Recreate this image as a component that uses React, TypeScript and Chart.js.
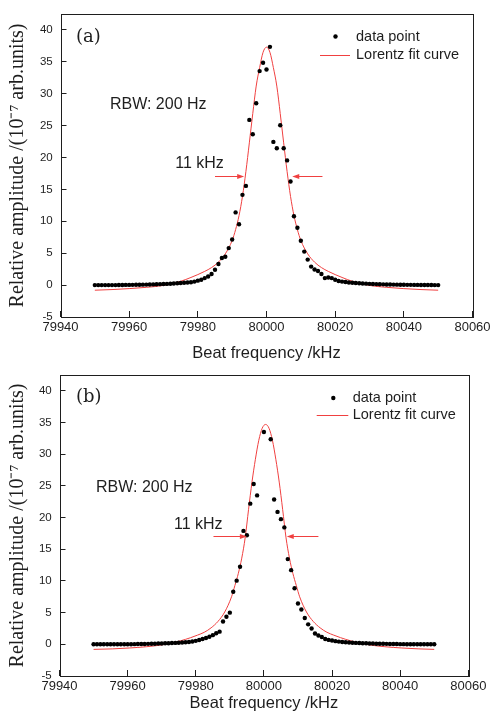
import React, { useEffect, useRef } from "react";
import { Chart, registerables } from "chart.js";

Chart.register(...registerables);

// ---------- data ----------
const frequencyKHz = [
  79950, 79951, 79952, 79953, 79954, 79955, 79956, 79957, 79958, 79959,
  79960, 79961, 79962, 79963, 79964, 79965, 79966, 79967, 79968, 79969,
  79970, 79971, 79972, 79973, 79974, 79975, 79976, 79977, 79978, 79979,
  79980, 79981, 79982, 79983, 79984, 79985, 79986, 79987, 79988, 79989,
  79990, 79991, 79992, 79993, 79994, 79995, 79996, 79997, 79998, 79999,
  80000, 80001, 80002, 80003, 80004, 80005, 80006, 80007, 80008, 80009,
  80010, 80011, 80012, 80013, 80014, 80015, 80016, 80017, 80018, 80019,
  80020, 80021, 80022, 80023, 80024, 80025, 80026, 80027, 80028, 80029,
  80030, 80031, 80032, 80033, 80034, 80035, 80036, 80037, 80038, 80039,
  80040, 80041, 80042, 80043, 80044, 80045, 80046, 80047, 80048, 80049,
  80050,
];

const amplitudeA = [
  0, 0, 0, 0, 0, 0, 0, 0.02, 0.02, 0.03,
  0.03, 0.04, 0.05, 0.06, 0.07, 0.08, 0.1, 0.11, 0.13, 0.15,
  0.17, 0.19, 0.22, 0.25, 0.28, 0.32, 0.36, 0.4, 0.45, 0.55,
  0.7, 0.85, 1.1, 1.35, 1.75, 2.4, 3.3, 4.25, 4.45, 5.8,
  7.15, 11.4, 9.55, 14.15, 15.55, 25.9, 23.65, 28.5, 33.55, 34.85,
  33.8, 37.35, 22.45, 21.45, 25.05, 21.45, 19.55, 16.25, 10.8, 9.0,
  6.95, 5.25, 4.0, 2.9, 2.45, 2.2, 1.75, 1.1, 1.2, 1.1,
  0.85, 0.65, 0.55, 0.48, 0.42, 0.37, 0.33, 0.29, 0.26, 0.23,
  0.2, 0.18, 0.16, 0.14, 0.12, 0.1, 0.09, 0.08, 0.07, 0.06,
  0.05, 0.04, 0.04, 0.03, 0.03, 0.02, 0.02, 0.01, 0.01, 0,
  0,
];

const amplitudeB: (number | null)[] = [
  0, 0, 0, 0, 0, 0, 0, 0, 0, 0,
  0, 0.02, 0.03, 0.04, 0.05, 0.06, 0.07, 0.08, 0.1, 0.12,
  0.14, 0.16, 0.18, 0.2, 0.22, 0.25, 0.28, 0.32, 0.37, 0.45,
  0.55, 0.68, 0.83, 1.0, 1.2, 1.45, 1.75, 2.0, 3.6, 4.35,
  5.0, 8.3, 10.05, 12.25, 17.9, 17.2, 22.2, 25.3, 23.5, null,
  33.5, null, 32.35, 22.85, 20.9, 19.75, 18.45, 13.45, 11.7, 8.85,
  6.45, 5.5, 4.15, 3.15, 2.5, 1.7, 1.4, 1.15, 0.85, 0.7,
  0.6, 0.5, 0.43, 0.37, 0.32, 0.28, 0.25, 0.22, 0.2, 0.18,
  0.16, 0.14, 0.12, 0.1, 0.09, 0.08, 0.07, 0.06, 0.05, 0.04,
  0.03, 0.03, 0.02, 0.02, 0.01, 0.01, 0, 0, 0, 0,
  0,
];

const fitFreqA = [
  79950, 79955, 79960, 79965, 79970, 79975, 79978, 79980, 79982, 79984,
  79986, 79988, 79990, 79991, 79992, 79993, 79994, 79995, 79996, 79997,
  79998, 79999, 80000, 80001, 80002, 80003, 80004, 80005, 80006, 80007,
  80008, 80009, 80010, 80012, 80014, 80016, 80018, 80020, 80022, 80025,
  80030, 80035, 80040, 80045, 80050,
];
const fitAmpA = [
  -0.8, -0.7, -0.55, -0.35, -0.05, 0.6, 1.2, 1.65, 2.15, 2.75,
  3.6, 4.9, 7.0, 8.7, 10.9, 13.9, 17.8, 22.3, 26.9, 31.2,
  34.1, 36.5, 37.3, 36.5, 34.1, 31.2, 26.9, 22.3, 17.8, 13.9,
  10.9, 8.7, 7.0, 4.9, 3.6, 2.75, 2.15, 1.65, 1.2, 0.6,
  -0.05, -0.35, -0.55, -0.7, -0.8,
];

const fitFreqB = [
  79950, 79955.5, 79960.5, 79965.5, 79970.5, 79975.5, 79978.5, 79980.5, 79982.5, 79984.5,
  79986.5, 79988.5, 79990.5, 79991.5, 79992.5, 79993.5, 79994.5, 79995.5, 79996.5, 79997.5,
  79998.5, 79999.5, 80000.5, 80001.5, 80002.5, 80003.5, 80004.5, 80005.5, 80006.5, 80007.5,
  80008.5, 80009.5, 80010.5, 80012.5, 80014.5, 80016.5, 80018.5, 80020.5, 80022.5, 80025.5,
  80030.5, 80035.5, 80040.5, 80045.5, 80050,
];
const fitAmpB = [
  -0.8, -0.72, -0.58, -0.38, -0.05, 0.55, 1.05, 1.45, 1.9, 2.6,
  3.6, 5.1, 7.5, 9.3, 11.2, 13.6, 16.8, 21.3, 25.6, 29.2,
  32.2, 34.1, 34.7, 34.1, 32.2, 29.2, 25.6, 21.3, 16.8, 13.6,
  11.2, 9.3, 7.5, 5.1, 3.6, 2.6, 1.9, 1.45, 1.05, 0.55,
  -0.05, -0.38, -0.58, -0.72, -0.8,
];

const xTickValues = [79940, 79960, 79980, 80000, 80020, 80040, 80060];
const yTickValues = [-5, 0, 5, 10, 15, 20, 25, 30, 35, 40];
const seriesLabels = ["data point", "Lorentz fit curve"];
const xTitle = "Beat frequency /kHz";
const yTitle = "Relative amplitude /(10\u207B\u2077 arb.units)";
const rbwText = "RBW: 200 Hz";
const fwhmText = "11 kHz";

// annotation anchors in data units
const rbwPosA = [79954.4, 28.3];
const fwhmPosA = [79973.4, 19.0];
const arrowsA = { level: 17.05, leftFrom: 79985.0, leftTo: 79993.5, rightFrom: 80016.3, rightTo: 80007.5 };
const rbwPosB = [79950.7, 24.7];
const fwhmPosB = [79973.6, 18.9];
const arrowsB = { level: 17.08, leftFrom: 79985.2, leftTo: 79995.0, rightFrom: 80016.0, rightTo: 80006.7 };

// ---------- styling ----------
const SANS = "'Liberation Sans', Arial, sans-serif";
const SERIF = "'Liberation Serif', 'Times New Roman', serif";
const PANEL_SERIF = "'DejaVu Serif', serif";
const INK = "#1e1e1e";
const RED = "#f04040";

type Panel = {
  tag: string;
  top: number;
  height: number;
  padTop: number;
  padRight: number;
  yAxisWidth: number;
  xAxisHeight: number;
  xTitlePad: number;
  amp: (number | null)[];
  fitX: number[];
  fitY: number[];
  rbw: number[];
  fwhm: number[];
  arrows: { level: number; leftFrom: number; leftTo: number; rightFrom: number; rightTo: number };
  tagDx: number;
  tagDy: number;
  legDotDx: number;
  legTextDx: number;
  legLineFrom: number;
  legLineTo: number;
  legRow1: number;
  legRow2: number;
};

const panels: Panel[] = [
  {
    tag: "(a)", top: 0, height: 365, padTop: 14, padRight: 18.5, yAxisWidth: 60.5, xAxisHeight: 48, xTitlePad: 1.8,
    amp: amplitudeA, fitX: fitFreqA, fitY: fitAmpA, rbw: rbwPosA, fwhm: fwhmPosA, arrows: arrowsA,
    tagDx: 15.5, tagDy: 23, legDotDx: 137, legTextDx: 116.5, legLineFrom: 152.5, legLineTo: 122.5, legRow1: 22.5, legRow2: 40.5,
  },
  {
    tag: "(b)", top: 361, height: 352, padTop: 14, padRight: 22.7, yAxisWidth: 59.5, xAxisHeight: 37, xTitlePad: 0.1,
    amp: amplitudeB, fitX: fitFreqB, fitY: fitAmpB, rbw: rbwPosB, fwhm: fwhmPosB, arrows: arrowsB,
    tagDx: 16.5, tagDy: 22.3, legDotDx: 135, legTextDx: 115.6, legLineFrom: 151.6, legLineTo: 120, legRow1: 23, legRow2: 40,
  },
];

function drawArrow(ctx: CanvasRenderingContext2D, x0: number, x1: number, y: number) {
  const dir = Math.sign(x1 - x0);
  const yy = Math.round(y) + 0.5;
  ctx.strokeStyle = RED;
  ctx.fillStyle = RED;
  ctx.lineWidth = 1;
  ctx.beginPath();
  ctx.moveTo(x0, yy);
  ctx.lineTo(x1 - dir * 5, yy);
  ctx.stroke();
  ctx.beginPath();
  ctx.moveTo(x1, yy);
  ctx.lineTo(x1 - dir * 7, yy - 2.6);
  ctx.lineTo(x1 - dir * 7, yy + 2.6);
  ctx.closePath();
  ctx.fill();
}

function PanelChart({ p }: { p: Panel }) {
  const ref = useRef<HTMLCanvasElement>(null);
  useEffect(() => {
    const canvas = ref.current!;
    const overlay = {
      id: "overlay",
      afterDraw(chart: any) {
        const { ctx, chartArea: a, scales } = chart;
        const xs = scales.x;
        const ys = scales.y;
        ctx.save();
        // frame
        ctx.strokeStyle = INK;
        ctx.lineWidth = 1;
        ctx.strokeRect(Math.round(a.left) + 0.5, Math.round(a.top) + 0.5, Math.round(a.right - a.left), Math.round(a.bottom - a.top));
        // panel tag
        ctx.fillStyle = INK;
        ctx.textBaseline = "middle";
        ctx.textAlign = "left";
        ctx.font = `18px ${PANEL_SERIF}`;
        ctx.fillText(p.tag, a.left + p.tagDx, a.top + p.tagDy);
        // annotations
        ctx.font = `16px ${SANS}`;
        ctx.fillText(rbwText, xs.getPixelForValue(p.rbw[0]), ys.getPixelForValue(p.rbw[1]));
        ctx.fillText(fwhmText, xs.getPixelForValue(p.fwhm[0]), ys.getPixelForValue(p.fwhm[1]));
        const ay = ys.getPixelForValue(p.arrows.level);
        drawArrow(ctx, xs.getPixelForValue(p.arrows.leftFrom), xs.getPixelForValue(p.arrows.leftTo), ay);
        drawArrow(ctx, xs.getPixelForValue(p.arrows.rightFrom), xs.getPixelForValue(p.arrows.rightTo), ay);
        // legend
        ctx.fillStyle = "#000";
        ctx.beginPath();
        ctx.arc(a.right - p.legDotDx, a.top + p.legRow1, 2.2, 0, Math.PI * 2);
        ctx.fill();
        ctx.strokeStyle = RED;
        ctx.lineWidth = 1;
        const ly = Math.round(a.top + p.legRow2) + 0.5;
        ctx.beginPath();
        ctx.moveTo(a.right - p.legLineFrom, ly);
        ctx.lineTo(a.right - p.legLineTo, ly);
        ctx.stroke();
        ctx.fillStyle = INK;
        ctx.font = `14.5px ${SANS}`;
        ctx.fillText(seriesLabels[0], a.right - p.legTextDx, a.top + p.legRow1);
        ctx.fillText(seriesLabels[1], a.right - p.legTextDx, a.top + p.legRow2);
        ctx.restore();
      },
    };

    const points = frequencyKHz
      .map((x, i) => ({ x, y: p.amp[i] }))
      .filter((d) => d.y !== null);
    const curve = p.fitX.map((x, i) => ({ x, y: p.fitY[i] }));

    const chart = new Chart(canvas, {
      type: "scatter",
      data: {
        datasets: [
          {
            label: seriesLabels[0],
            data: points as any,
            pointRadius: 2.2,
            pointBackgroundColor: "#000",
            pointBorderWidth: 0,
            showLine: false,
            order: 0,
          },
          {
            label: seriesLabels[1],
            data: curve,
            showLine: true,
            borderColor: RED,
            borderWidth: 1,
            pointRadius: 0,
            cubicInterpolationMode: "monotone",
            fill: false,
            order: 1,
          } as any,
        ],
      },
      options: {
        animation: false,
        responsive: false,
        events: [],
        layout: { padding: { top: p.padTop, right: p.padRight, left: 0, bottom: 0 } },
        plugins: { legend: { display: false }, tooltip: { enabled: false } },
        scales: {
          x: {
            type: "linear",
            min: 79940,
            max: 80060,
            afterBuildTicks: (s: any) => {
              s.ticks = xTickValues.map((v) => ({ value: v }));
            },
            afterFit: (s: any) => {
              s.height = p.xAxisHeight;
              s.paddingLeft = 0;
              s.paddingRight = 0;
            },
            ticks: {
              callback: (v: any) => String(v),
              font: { family: SANS, size: 13 },
              color: INK,
              padding: 8.5,
              maxRotation: 0,
              autoSkip: false,
            },
            grid: { display: true, drawOnChartArea: false, drawTicks: true, tickLength: -6, color: INK, lineWidth: 1 },
            border: { display: false },
            title: {
              display: true,
              text: xTitle,
              color: INK,
              font: { family: SANS, size: 16.5 },
              padding: { top: 0, bottom: p.xTitlePad },
            },
          },
          y: {
            type: "linear",
            min: -5,
            max: 42.5,
            afterBuildTicks: (s: any) => {
              s.ticks = yTickValues.map((v) => ({ value: v }));
            },
            afterFit: (s: any) => {
              s.width = p.yAxisWidth;
              s.paddingTop = 0;
              s.paddingBottom = 0;
            },
            ticks: {
              callback: (v: any) => String(v),
              font: { family: SANS, size: 11.5 },
              color: INK,
              padding: 13.8,
              autoSkip: false,
            },
            grid: { display: true, drawOnChartArea: false, drawTicks: true, tickLength: -6, color: INK, lineWidth: 1 },
            border: { display: false },
            title: {
              display: true,
              text: yTitle,
              color: INK,
              font: { family: SERIF, size: 20 },
              padding: { top: 5.5, bottom: 0 },
            },
          },
        },
      },
      plugins: [overlay],
    } as any);
    return () => chart.destroy();
  }, [p]);

  return (
    <canvas
      ref={ref}
      width={491}
      height={p.height}
      style={{ position: "absolute", left: 0, top: p.top, width: 491, height: p.height, display: "block" }}
    />
  );
}

export default function App() {
  return (
    <div style={{ position: "absolute", left: 0, top: 0, width: 491, height: 713, background: "#fff", overflow: "hidden" }}>
      {panels.map((p) => (
        <PanelChart key={p.tag} p={p} />
      ))}
    </div>
  );
}
